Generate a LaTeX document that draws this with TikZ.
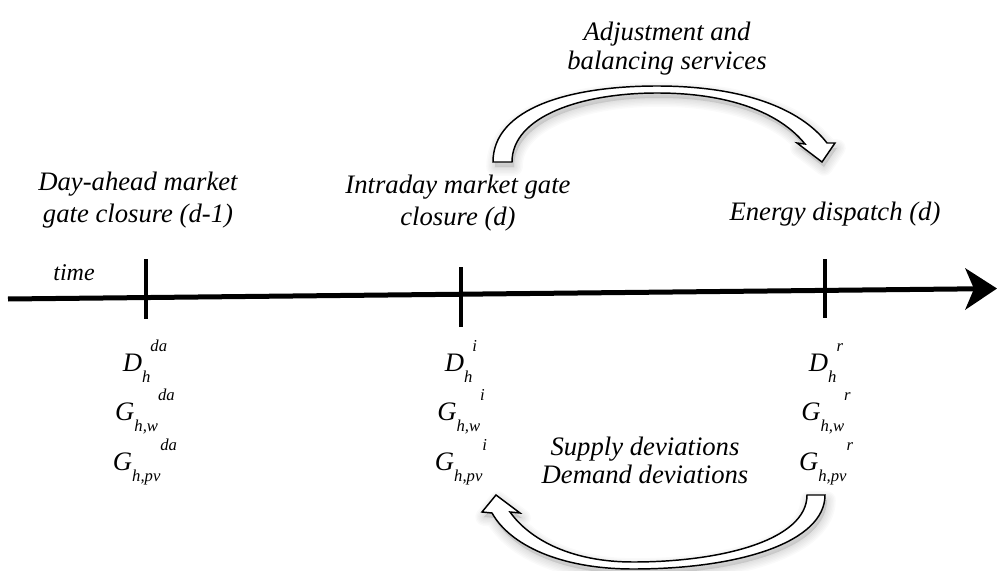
\documentclass[tikz,border=0pt]{standalone}
\usepackage{fontspec}
\setmainfont{Liberation Serif}
\usetikzlibrary{arrows.meta}
\newcommand{\mlab}[3]{{\fontsize{20}{20}\selectfont #1}\raisebox{-8.5pt}{\fontsize{12.5}{12.5}\selectfont #2}\raisebox{15pt}{\fontsize{12.5}{12.5}\selectfont #3}}
\newcommand{\upperarrowpath}{(493,162) .. controls (493,108) and (570,86) .. (657,86)
  .. controls (742,86) and (800,108) .. (827,143)
  -- (835,143) -- (822,162) -- (797,143) -- (805,144)
  .. controls (780,113) and (730,93) .. (657,93)
  .. controls (582,93) and (512,116) .. (512,162) -- cycle}
\newcommand{\lowerarrowpath}{(825,495) .. controls (825,542) and (740,569) .. (633,569)
  .. controls (560,569) and (510,545) .. (492,513)
  -- (482,512) -- (496,495) -- (520,513) -- (510,512)
  .. controls (530,540) and (572,562) .. (633,562)
  .. controls (722,562) and (807,540) .. (807,495) -- cycle}
\begin{document}
\begin{tikzpicture}[x=0.75pt,y=-0.75pt,
  lbl/.style={font=\itshape\fontsize{20}{24}\selectfont, align=center, anchor=base, inner sep=0pt},
  lbltight/.style={font=\itshape\fontsize{20}{21}\selectfont, align=center, anchor=base, inner sep=0pt},
  smalllbl/.style={font=\itshape\fontsize{18}{20}\selectfont, anchor=base, inner sep=0pt},
  var/.style={font=\itshape, anchor=base, inner sep=0pt},
  axisline/.style={line width=3.75pt},
  axishead/.style={fill=black},
  tickmark/.style={line width=3pt},
  softshadow/.style={draw=black, fill=black, draw opacity=0.018, fill opacity=0.02, line join=round},
  bigarrow/.style={draw=black, fill=white, line width=1.1pt, line join=miter}]
\useasboundingbox (0,0) rectangle (997,571);

% time axis
\coordinate (tstart) at (8,299);
\coordinate (tend) at (976,288.8);
\coordinate (tip) at (997,288.5);
\coordinate (hup) at (965,268);
\coordinate (hlow) at (965,310);
\draw[axisline] (tstart) -- (tend);
\fill[axishead] (tip) -- (hup) -- (974,288.8) -- (hlow) -- cycle;

% ticks
\coordinate (t1a) at (146,259); \coordinate (t1b) at (146,319);
\coordinate (t2a) at (461,267); \coordinate (t2b) at (461,327);
\coordinate (t3a) at (825,259); \coordinate (t3b) at (825,318);
\draw[tickmark] (t1a) -- (t1b);
\draw[tickmark] (t2a) -- (t2b);
\draw[tickmark] (t3a) -- (t3b);

% labels (base anchor = baseline of last line)
\node[smalllbl] (time) at (74,280) {time};
\node[lbl] (da) at (138,222) {Day-ahead market\\gate closure (d-1)};
\node[lbl] (id) at (458,225) {Intraday market gate\\closure (d)};
\node[lbl] (ed) at (835,220) {Energy dispatch (d)};
\node[lbltight] (adj) at (667,69) {Adjustment and\\balancing services};
\node[lbltight] (dev) at (645,483) {Supply deviations\\Demand deviations};

% variables
\node[var] (dda) at (145,371) {\mlab{D}{h}{da}};
\node[var] (gwda) at (145,420) {\mlab{G}{h,w}{da}};
\node[var] (gpvda) at (145,470) {\mlab{G}{h,pv}{da}};
\node[var] (di) at (461,371) {\mlab{D}{h}{i}};
\node[var] (gwi) at (461,420) {\mlab{G}{h,w}{i}};
\node[var] (gpvi) at (461,470) {\mlab{G}{h,pv}{i}};
\node[var] (dr) at (826,371) {\mlab{D}{h}{r}};
\node[var] (gwr) at (826,420) {\mlab{G}{h,w}{r}};
\node[var] (gpvr) at (826,470) {\mlab{G}{h,pv}{r}};

% soft shadows
\foreach \k in {1,...,6} {
  \path[softshadow, line width=\k*2.2pt, shift={(2,5)}] \upperarrowpath;
  \path[softshadow, line width=\k*2.2pt, shift={(2,5)}] \lowerarrowpath;
}

% curved block arrows
\draw[bigarrow] \upperarrowpath;
\draw[bigarrow] \lowerarrowpath;
\end{tikzpicture}
\end{document}
